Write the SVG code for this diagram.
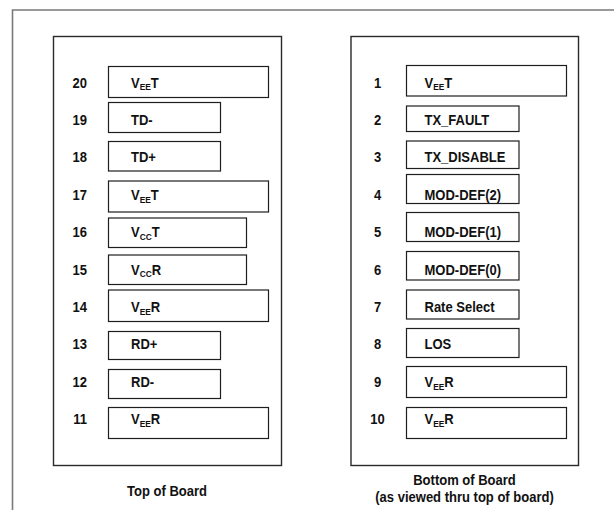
<svg xmlns="http://www.w3.org/2000/svg" width="614" height="510" viewBox="0 0 614 510">
<style>
.frame{fill:none;stroke:#7a7a7a;stroke-width:1.6}
.board{fill:#fff;stroke:#2a2a2a;stroke-width:1.4}
.pin{fill:#fff;stroke:#1e1e1e;stroke-width:1.2}
text{font-family:"Liberation Sans",Arial,sans-serif;font-weight:bold;font-size:14px;fill:#111}
.numL{text-anchor:end}
.numR{text-anchor:middle}
.sub{font-size:9px}
.title{text-anchor:middle}
</style>
<rect x="0" y="0" width="614" height="510" fill="#fff"/>
<path class="frame" d="M12.5,510 V10 H614"/>
<g id="connectors"/>
<g id="board-top">
<rect class="board" x="53.5" y="36.5" width="228" height="429"/>
<text class="title" transform="translate(167 495.5) scale(.93 1)">Top of Board</text>
</g>
<g id="board-bottom">
<rect class="board" x="351" y="36.5" width="227.5" height="429"/>
<text class="title" transform="translate(464.5 485) scale(.93 1)">Bottom of Board</text>
<text class="title" transform="translate(464.5 502) scale(.93 1)">(as viewed thru top of board)</text>
</g>
<g id="pin20"><rect class="pin" x="108.5" y="66.5" width="160" height="31"/><text class="numL" transform="translate(87 87.5) scale(.93 1)">20</text><text transform="translate(131 87.5) scale(.93 1)">V<tspan class="sub" dy="2.8">EE</tspan><tspan dy="-2.8">T</tspan></text></g>
<g id="pin19"><rect class="pin" x="108.5" y="102.5" width="112" height="30"/><text class="numL" transform="translate(87 124.9) scale(.93 1)">19</text><text transform="translate(131 124.9) scale(.93 1)">TD-</text></g>
<g id="pin18"><rect class="pin" x="108.5" y="141.5" width="112" height="29.5"/><text class="numL" transform="translate(87 162.3) scale(.93 1)">18</text><text transform="translate(131 162.3) scale(.93 1)">TD+</text></g>
<g id="pin17"><rect class="pin" x="108.5" y="181" width="160" height="31"/><text class="numL" transform="translate(87 199.7) scale(.93 1)">17</text><text transform="translate(131 199.7) scale(.93 1)">V<tspan class="sub" dy="2.8">EE</tspan><tspan dy="-2.8">T</tspan></text></g>
<g id="pin16"><rect class="pin" x="108.5" y="218" width="138" height="29.5"/><text class="numL" transform="translate(87 237.1) scale(.93 1)">16</text><text transform="translate(131 237.1) scale(.93 1)">V<tspan class="sub" dy="2.8">CC</tspan><tspan dy="-2.8">T</tspan></text></g>
<g id="pin15"><rect class="pin" x="108.5" y="255" width="138" height="29.5"/><text class="numL" transform="translate(87 274.5) scale(.93 1)">15</text><text transform="translate(131 274.5) scale(.93 1)">V<tspan class="sub" dy="2.8">CC</tspan><tspan dy="-2.8">R</tspan></text></g>
<g id="pin14"><rect class="pin" x="108.5" y="290" width="160" height="31.5"/><text class="numL" transform="translate(87 311.9) scale(.93 1)">14</text><text transform="translate(131 311.9) scale(.93 1)">V<tspan class="sub" dy="2.8">EE</tspan><tspan dy="-2.8">R</tspan></text></g>
<g id="pin13"><rect class="pin" x="108.5" y="331.5" width="112" height="28"/><text class="numL" transform="translate(87 349.3) scale(.93 1)">13</text><text transform="translate(131 349.3) scale(.93 1)">RD+</text></g>
<g id="pin12"><rect class="pin" x="108.5" y="369.5" width="112" height="29"/><text class="numL" transform="translate(87 386.7) scale(.93 1)">12</text><text transform="translate(131 386.7) scale(.93 1)">RD-</text></g>
<g id="pin11"><rect class="pin" x="108.5" y="407.5" width="160" height="31"/><text class="numL" transform="translate(87 424.1) scale(.93 1)">11</text><text transform="translate(131 424.1) scale(.93 1)">V<tspan class="sub" dy="2.8">EE</tspan><tspan dy="-2.8">R</tspan></text></g>
<g id="pin1"><rect class="pin" x="406.5" y="65.5" width="160" height="30.5"/><text class="numR" transform="translate(377.5 87.5) scale(.93 1)">1</text><text transform="translate(424.5 87.5) scale(.93 1)">V<tspan class="sub" dy="2.8">EE</tspan><tspan dy="-2.8">T</tspan></text></g>
<g id="pin2"><rect class="pin" x="406.5" y="106" width="112.5" height="25.5"/><text class="numR" transform="translate(377.5 124.9) scale(.93 1)">2</text><text transform="translate(424.5 124.9) scale(.93 1)">TX_FAULT</text></g>
<g id="pin3"><rect class="pin" x="406.5" y="141" width="112.5" height="27.5"/><text class="numR" transform="translate(377.5 162.3) scale(.93 1)">3</text><text transform="translate(424.5 162.3) scale(.93 1)">TX_DISABLE</text></g>
<g id="pin4"><rect class="pin" x="406.5" y="174.5" width="112.5" height="29"/><text class="numR" transform="translate(377.5 199.7) scale(.93 1)">4</text><text transform="translate(424.5 199.7) scale(.93 1)">MOD-DEF(2)</text></g>
<g id="pin5"><rect class="pin" x="406.5" y="212.5" width="112.5" height="29"/><text class="numR" transform="translate(377.5 237.1) scale(.93 1)">5</text><text transform="translate(424.5 237.1) scale(.93 1)">MOD-DEF(1)</text></g>
<g id="pin6"><rect class="pin" x="406.5" y="251.5" width="112.5" height="28.5"/><text class="numR" transform="translate(377.5 274.5) scale(.93 1)">6</text><text transform="translate(424.5 274.5) scale(.93 1)">MOD-DEF(0)</text></g>
<g id="pin7"><rect class="pin" x="406.5" y="290" width="112.5" height="29"/><text class="numR" transform="translate(377.5 311.9) scale(.93 1)">7</text><text transform="translate(424.5 311.9) scale(.93 1)">Rate Select</text></g>
<g id="pin8"><rect class="pin" x="406.5" y="328.5" width="112.5" height="29"/><text class="numR" transform="translate(377.5 349.3) scale(.93 1)">8</text><text transform="translate(424.5 349.3) scale(.93 1)">LOS</text></g>
<g id="pin9"><rect class="pin" x="406.5" y="366.5" width="160" height="31"/><text class="numR" transform="translate(377.5 386.7) scale(.93 1)">9</text><text transform="translate(424.5 386.7) scale(.93 1)">V<tspan class="sub" dy="2.8">EE</tspan><tspan dy="-2.8">R</tspan></text></g>
<g id="pin10"><rect class="pin" x="406.5" y="407.5" width="160" height="31"/><text class="numR" transform="translate(377.5 424.1) scale(.93 1)">10</text><text transform="translate(424.5 424.1) scale(.93 1)">V<tspan class="sub" dy="2.8">EE</tspan><tspan dy="-2.8">R</tspan></text></g>
</svg>
